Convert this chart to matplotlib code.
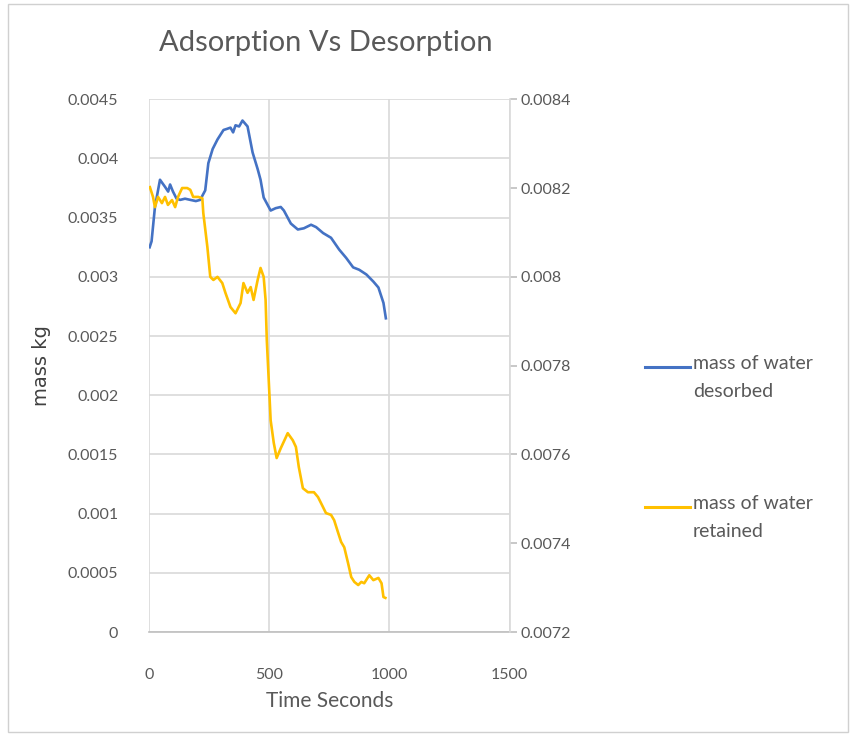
import matplotlib
matplotlib.use("Agg")
import matplotlib.pyplot as plt
from matplotlib.lines import Line2D
from matplotlib.patches import Rectangle
from matplotlib.ticker import FuncFormatter, MultipleLocator

# mass of water desorbed (left axis)
t_desorbed = [3, 11, 25, 46, 67, 80, 88, 100, 115, 130, 150, 172, 195, 213, 234, 247,
              265, 285, 310, 325, 339, 350, 360, 375, 389, 410, 431, 452, 464, 477,
              506, 527, 548, 561, 590, 619, 644, 674, 695, 724, 757, 791, 820, 849,
              874, 904, 933, 954, 975, 985]
m_desorbed = [0.00325, 0.00330, 0.00359, 0.00382, 0.00376, 0.00372, 0.00378, 0.00372,
              0.00366, 0.00365, 0.00366, 0.00365, 0.00364, 0.00365, 0.00373, 0.00396,
              0.00408, 0.00416, 0.00424, 0.00425, 0.00426, 0.00422, 0.00428, 0.00427,
              0.00432, 0.00427, 0.00405, 0.00391, 0.00382, 0.00367,
              0.00356, 0.00358, 0.00359, 0.00356, 0.00345, 0.00340, 0.00341, 0.00344,
              0.00342, 0.00337, 0.00333, 0.00323, 0.00316, 0.00308, 0.00306, 0.00302,
              0.00296, 0.00291, 0.00278, 0.00265]

# mass of water retained (right axis)
t_retained = [4, 17, 25, 38, 54, 67, 79, 96, 109, 121, 138, 159, 172, 184, 205, 222,
              226, 243, 255, 268, 285, 305, 318, 339, 360, 381, 393, 410, 423, 435,
              452, 464, 477, 485, 490, 498, 506, 519, 531, 548, 577, 598, 611, 623,
              640, 661, 686, 703, 715, 736, 757, 770, 787, 799, 812, 828, 841, 854,
              870, 883, 895, 916, 933, 954, 967, 975, 983]
m_retained = [0.008202, 0.008180, 0.008157, 0.008180, 0.008166, 0.008180, 0.008162,
              0.008173, 0.008157, 0.008180, 0.008200, 0.008200, 0.008196, 0.008180,
              0.008180, 0.008177, 0.008144, 0.008067, 0.008000, 0.007993, 0.008000,
              0.007986, 0.007964, 0.007932, 0.007918, 0.007941, 0.007986, 0.007964,
              0.007977, 0.007948, 0.007993, 0.008020, 0.008000, 0.007948, 0.007858,
              0.007768, 0.007677, 0.007626, 0.007592, 0.007614, 0.007648, 0.007632,
              0.007617, 0.007572, 0.007524, 0.007515, 0.007515, 0.007504, 0.007491,
              0.007468, 0.007464, 0.007452, 0.007423, 0.007403, 0.007391, 0.007355,
              0.007324, 0.007313, 0.007306, 0.007313, 0.007310, 0.007328, 0.007317,
              0.007322, 0.007310, 0.007279, 0.007277]

labels = ["mass of water\ndesorbed", "mass of water\nretained"]
BLUE = "#4472C4"
GOLD = "#FFC000"
TXT = "#595959"
GRID = "#D9D9D9"

plt.rcParams['font.family'] = ['Lato', 'DejaVu Sans']


def fmt(v, pos):
    s = f"{v:.4f}".rstrip('0').rstrip('.')
    return s


fig = plt.figure(figsize=(8.51, 7.35), dpi=100)
fig.add_artist(Rectangle((0.009, 0.004), 0.988, 0.99, transform=fig.transFigure,
                         fill=False, edgecolor="#D0D0D0", linewidth=1))

ax = fig.add_axes([0.175, 0.140, 0.424, 0.725])
ax2 = ax.twinx()

ax.plot(t_desorbed, m_desorbed, color=BLUE, linewidth=1.9, zorder=3)
ax2.plot(t_retained, m_retained, color=GOLD, linewidth=1.9, zorder=3)

ax.set_xlim(0, 1500)
ax.set_ylim(0, 0.0045)
ax2.set_ylim(0.0072, 0.0084)
ax.xaxis.set_major_locator(MultipleLocator(500))
ax.yaxis.set_major_locator(MultipleLocator(0.0005))
ax2.yaxis.set_major_locator(MultipleLocator(0.0002))
ax.yaxis.set_major_formatter(FuncFormatter(fmt))
ax2.yaxis.set_major_formatter(FuncFormatter(fmt))

ax.grid(True, color=GRID, linewidth=1.2, zorder=0)
ax.set_axisbelow(True)
for a in (ax, ax2):
    for s in ("top", "left", "right"):
        a.spines[s].set_visible(False)
ax2.spines["bottom"].set_visible(False)
ax.spines["bottom"].set_color("#BFBFBF")
ax.spines["bottom"].set_linewidth(1.2)
ax2.spines["right"].set_visible(True)
ax2.spines["right"].set_color(GRID)
ax2.spines["right"].set_linewidth(1.2)

ax.tick_params(axis="both", length=0, labelsize=11.5, labelcolor=TXT)
ax.tick_params(axis="y", pad=22)
ax.tick_params(axis="x", pad=26)
ax2.tick_params(axis="y", length=5, color="#BFBFBF", width=1.2, labelsize=11.5,
                labelcolor=TXT, pad=3)

ax.set_xlabel("Time Seconds", fontsize=15, color=TXT, labelpad=6)
ax.set_ylabel("mass kg", fontsize=14, color="#404040", family="DejaVu Sans",
              labelpad=12)

fig.text(0.383, 0.942, "Adsorption Vs Desorption", fontsize=21, color=TXT,
         ha="center", va="center")

# legend on the right, key aligned with the first text line
for i, (lab, col) in enumerate(zip(labels, [BLUE, GOLD])):
    y = 1 - (367 + 140 * i) / 735
    fig.add_artist(Line2D([645 / 851, 690 / 851], [y, y], color=col, linewidth=2.2,
                          transform=fig.transFigure))
    fig.text(693 / 851, y + 0.016, lab, fontsize=14, color=TXT, ha="left",
             va="top", linespacing=1.75)

fig.savefig("out.png", dpi=100)
